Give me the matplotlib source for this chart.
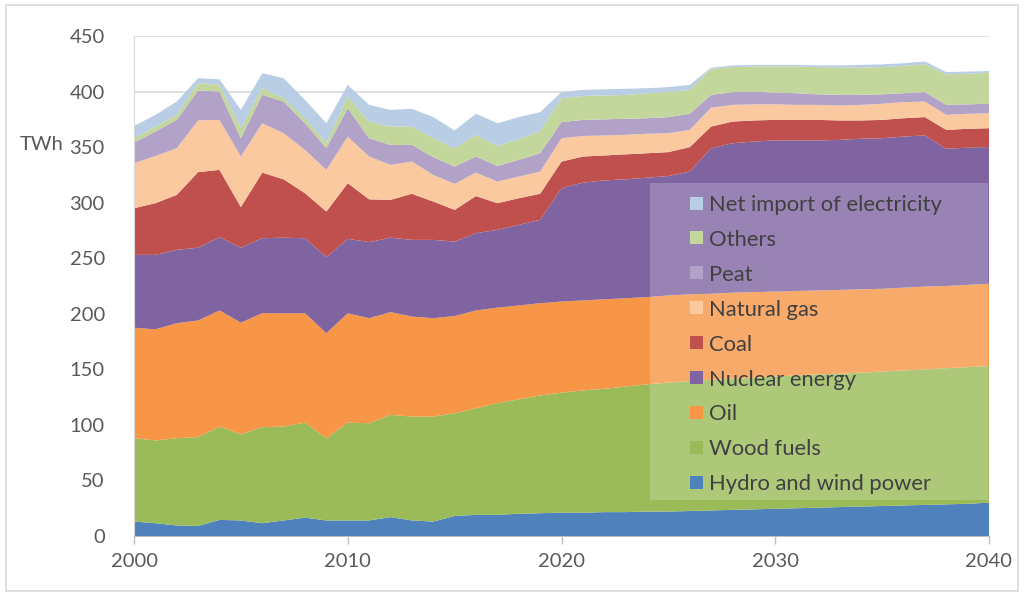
import matplotlib
matplotlib.use("Agg")
import matplotlib.pyplot as plt
from matplotlib.patches import Rectangle
import numpy as np

years = list(range(2000, 2041))

hydro_wind = [13, 11.5, 9.5, 9, 14.5, 14, 11.5, 14, 16.5, 14, 14, 14, 17, 14, 13, 18, 19, 19, 20, 20.5,
              21, 21, 21.5, 21.5, 22, 22, 22.5, 23, 23.5, 24, 24.5, 25, 25.5, 26, 26.5, 27, 27.5, 28, 28.5, 29, 30]
wood_fuels = [75, 74.5, 78.5, 80, 84, 77.5, 86.5, 84.5, 85.5, 74, 88, 87.5, 92, 93.5, 94.5, 92.5, 96, 100.5, 103, 106,
              108, 110, 111, 113, 114.5, 116, 117, 117.5, 118, 118.5, 119, 119.5, 120, 120, 120.5, 121, 121.5, 122, 122.5, 123, 123]
oil = [99.5, 100, 103.5, 105, 104.5, 100.5, 102.5, 102, 98.5, 94.5, 98.5, 94.5, 92.5, 90, 88.5, 87.5, 88, 86, 84.5, 83,
       82, 81, 80.5, 79.5, 78.5, 78.5, 78, 77.5, 77.5, 77, 76.5, 76, 75.5, 75.5, 75, 74.5, 74.5, 74.5, 74, 74, 74]
nuclear = [65.5, 67, 66, 65.5, 66, 67.5, 67.5, 68, 67.5, 68.5, 67, 68.5, 67, 69, 70.5, 67, 69.5, 70, 72.5, 75,
           102, 106, 107, 107, 107.5, 107.5, 110.5, 131, 134.5, 135.5, 136, 135.5, 135, 135, 135.5, 135.5, 136, 136, 123.5, 123.5, 123]
coal = [42, 46.5, 49.5, 68, 60.5, 36.5, 59, 52.5, 40.5, 41, 50, 38.5, 34, 41.5, 34.5, 28.5, 33.5, 24, 24, 23.5,
        24, 23.5, 22.5, 22.5, 22, 21.5, 22, 19.5, 19.5, 19, 18.5, 18.5, 18.5, 17.5, 16.5, 16.5, 16.5, 16.5, 17, 17, 17]
natural_gas = [40.5, 42.5, 42, 46.5, 45, 45.5, 44.5, 41.5, 39, 37.5, 42, 38.5, 31.5, 29, 24, 23.5, 21, 19.5, 19.5, 20,
               21, 18.5, 18, 17.5, 17.5, 17, 15.5, 17, 15, 14.5, 14, 13.5, 13.5, 13.5, 14, 14.5, 14.5, 14, 13.5, 13.5, 13.5]
peat = [18.5, 22, 25.5, 27, 25.5, 16.5, 25.5, 28.5, 24, 19.5, 25.5, 16.5, 18, 15, 16, 15.5, 14.5, 14, 15, 16.5,
        14.5, 14.5, 14.5, 14.5, 14, 14.5, 14.5, 11.5, 11.5, 11.5, 10.5, 10.5, 9.5, 9.5, 9, 8.5, 8, 8.5, 9, 8.5, 8.5]
others = [4, 4.5, 4.5, 6.5, 6, 9, 6, 3, 4.5, 4.5, 10.5, 15, 16.5, 16.5, 17, 16.5, 19.5, 18, 18.5, 20,
          21.5, 21.5, 21.5, 21.5, 22.5, 22.5, 21.5, 23.5, 22.5, 22.5, 23.5, 24, 24.5, 24.5, 24.5, 24.5, 24.5, 25, 27.5, 27.5, 28]
net_import = [11, 10.5, 12, 4.5, 5, 16.5, 13.5, 18, 16.5, 18, 10.5, 15, 15, 16, 19, 16, 19, 20.5, 20, 17,
              5.5, 5.5, 5.5, 5.5, 4.5, 4.5, 4.5, 1, 1.5, 1.5, 1.5, 1.5, 1.5, 2, 2.5, 2.5, 2.5, 2.5, 2, 2, 1.5]

series_names = ["Hydro and wind power", "Wood fuels", "Oil", "Nuclear energy", "Coal",
                "Natural gas", "Peat", "Others", "Net import of electricity"]
series = [hydro_wind, wood_fuels, oil, nuclear, coal, natural_gas, peat, others, net_import]
colors = ["#4F81BD", "#9BBB59", "#F79646", "#8064A2", "#C0504D",
          "#FAC9A0", "#B3A2C7", "#C3D69B", "#B9CDE5"]

y_ticks = [0, 50, 100, 150, 200, 250, 300, 350, 400, 450]
x_ticks = [2000, 2010, 2020, 2030, 2040]

FONT = ["Lato", "DejaVu Sans"]
plt.rcParams['font.family'] = FONT

fig = plt.figure(figsize=(10.24, 5.97), dpi=100)
ax = fig.add_axes([134/1024, 61/597, 855/1024, 500/597])

ax.stackplot(years, *series, colors=colors, linewidth=0, zorder=2)

ax.set_xlim(2000, 2040)
ax.set_ylim(0, 450)
ax.set_yticks(y_ticks)
ax.set_xticks(x_ticks)
ax.yaxis.grid(True, color="#D9D9D9", linewidth=1.2, zorder=0)
ax.set_axisbelow(True)
ax.tick_params(axis='y', length=0, labelsize=14.5, labelcolor="#595959", pad=21)
ax.tick_params(axis='x', length=6, width=1, color="#BFBFBF", labelsize=14.5, labelcolor="#595959", pad=6)
for s in ["top", "right"]:
    ax.spines[s].set_visible(False)
ax.spines["left"].set_color("#D9D9D9")
ax.spines["bottom"].set_color("#BFBFBF")

# Y-axis unit label
fig.text(20/1024, 1 - 145/597, "TWh", ha="left", va="center", fontsize=14.5, color="#595959")

# Legend (drawn manually to reproduce Excel look)
lx0, lx1 = 650, 988
ly0, ly1 = 183, 500
def fx(px):
    return px / 1024
def fy(py):
    return 1 - py / 597
fig.patches.append(Rectangle((fx(lx0), fy(ly1)), fx(lx1) - fx(lx0), fy(ly0) - fy(ly1),
                             transform=fig.transFigure, facecolor="white", alpha=0.2,
                             edgecolor="none", zorder=5))
row0 = 203
row_step = 34.9
for i, (name, col) in enumerate(zip(series_names[::-1], colors[::-1])):
    yc = row0 + i * row_step
    fig.patches.append(Rectangle((fx(690), fy(yc + 6.5)), 13/1024, 13/597,
                                 transform=fig.transFigure, facecolor=col,
                                 edgecolor="none", zorder=6))
    fig.text(fx(709), fy(yc), name, ha="left", va="center_baseline", fontsize=15.8,
             color="#404040", zorder=7)

# Outer frame
fig.patches.append(Rectangle((6/1024, 6/597), 1012/1024, 586/597, transform=fig.transFigure,
                             facecolor="none", edgecolor="#D9D9D9", linewidth=1.2, zorder=0))

fig.savefig("out.png", dpi=100)
